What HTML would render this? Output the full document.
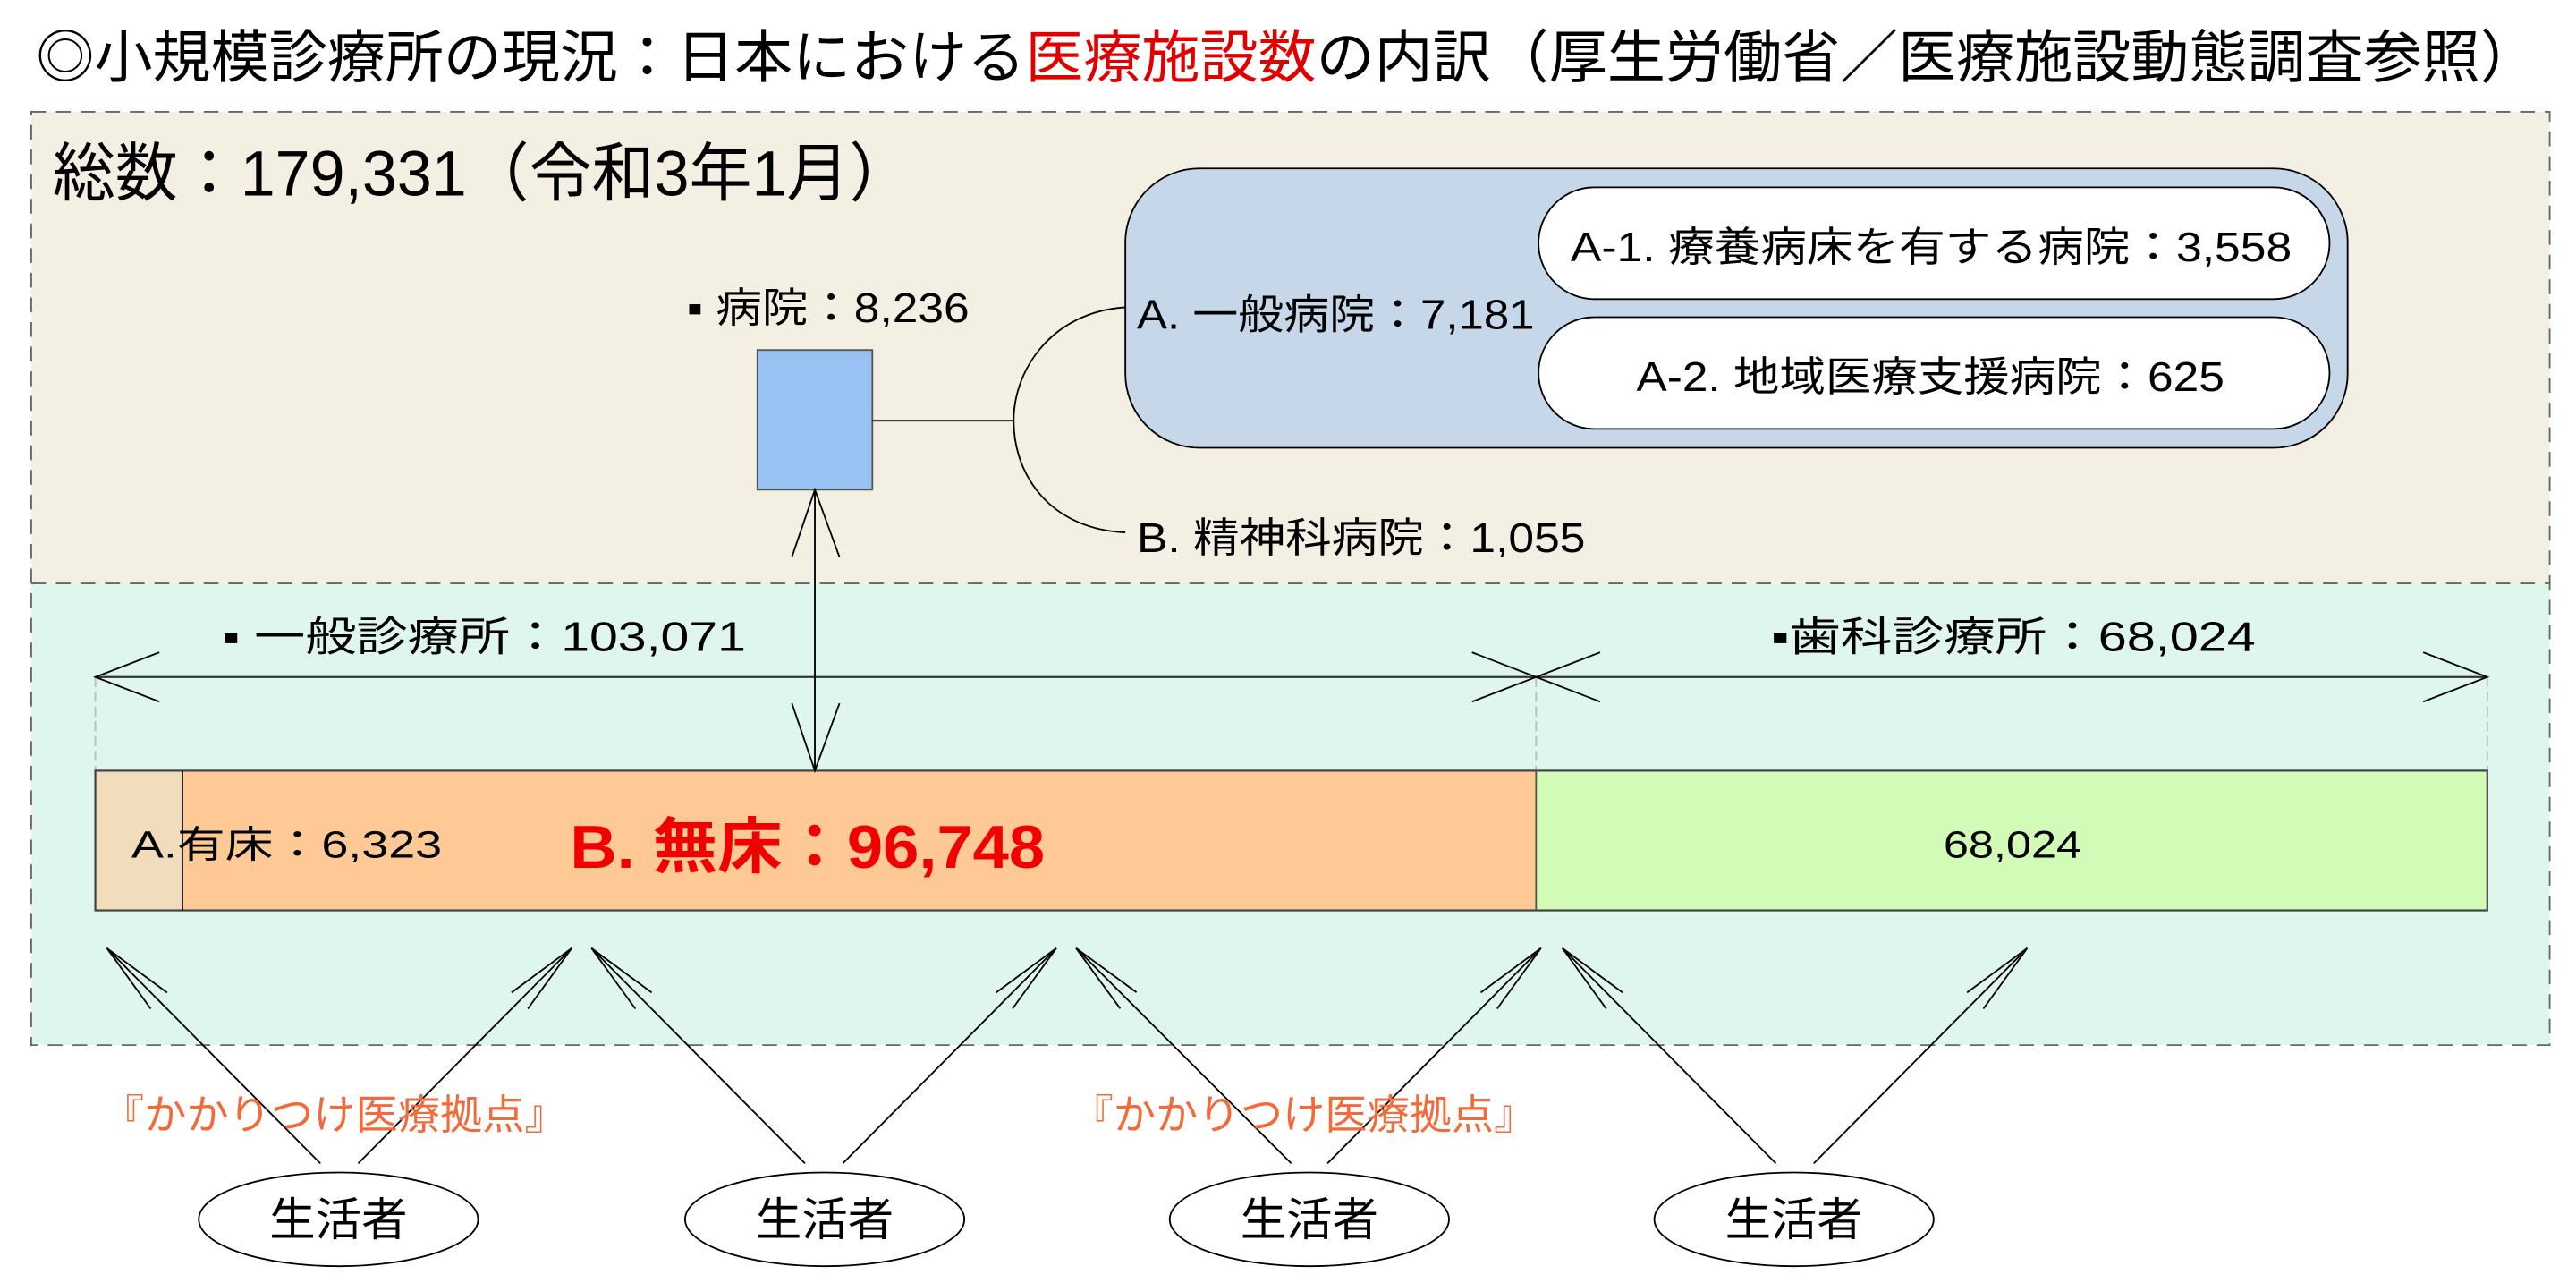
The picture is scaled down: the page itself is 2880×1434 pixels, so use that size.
<!DOCTYPE html>
<html><head><meta charset="utf-8"><style>
html,body{margin:0;padding:0;background:#fff;}
svg{display:block;}
text{font-family:"Liberation Sans","Noto Sans CJK JP",sans-serif;}
</style></head><body>
<svg xmlns="http://www.w3.org/2000/svg" width="2880" height="1434" viewBox="0 0 1568 780.75">
<defs>
<marker id="v" markerUnits="userSpaceOnUse" markerWidth="60" markerHeight="60" refX="0" refY="0" viewBox="-50 -30 60 60" orient="auto">
<path d="M-45,-7 L0,0 L-45,7" fill="none" stroke="#000" stroke-width="1"/>
</marker>
</defs>
<rect width="1568" height="781" fill="#fff"/>
<text x="22" y="47" font-size="35" textLength="1523" lengthAdjust="spacingAndGlyphs" fill="#000">◎小規模診療所の現況：日本における<tspan fill="#e00000">医療施設数</tspan>の内訳（厚生労働省／医療施設動態調査参照）</text>

<rect x="19" y="68" width="1533" height="287" fill="#f3efe2"/>
<rect x="19" y="355" width="1533" height="281" fill="#dff6ee"/>
<rect x="19" y="68" width="1533" height="568" fill="none" stroke="#666" stroke-width="1" stroke-dasharray="9,6"/>
<line x1="19" y1="355" x2="1552" y2="355" stroke="#666" stroke-width="1" stroke-dasharray="9,6"/>

<text x="32" y="119" font-size="39" textLength="523" lengthAdjust="spacingAndGlyphs">総数：179,331（令和3年1月）</text>

<text x="418" y="196" font-size="25" textLength="172" lengthAdjust="spacingAndGlyphs">▪ 病院：8,236</text>
<rect x="461" y="213" width="70" height="85" fill="#97c2f2" stroke="#555" stroke-width="1"/>
<line x1="531" y1="256" x2="617" y2="256" stroke="#000" stroke-width="1"/>
<path d="M685,187 C640,190 617,225 617,256 C617,290 640,322 685,324" fill="none" stroke="#000" stroke-width="1"/>

<rect x="685" y="102.5" width="744" height="170" rx="45" fill="#c5d7e8" stroke="#000" stroke-width="1"/>
<rect x="936.5" y="114" width="481.5" height="68" rx="34" fill="#fff" stroke="#000" stroke-width="1"/>
<rect x="936.5" y="193" width="481.5" height="68" rx="34" fill="#fff" stroke="#000" stroke-width="1"/>
<text x="692" y="200" font-size="25" textLength="242" lengthAdjust="spacingAndGlyphs">A. 一般病院：7,181</text>
<text x="956" y="159" font-size="25" textLength="439" lengthAdjust="spacingAndGlyphs">A-1. 療養病床を有する病院：3,558</text>
<text x="996" y="238" font-size="25" textLength="358" lengthAdjust="spacingAndGlyphs">A-2. 地域医療支援病院：625</text>
<text x="692" y="336" font-size="25" textLength="273" lengthAdjust="spacingAndGlyphs">B. 精神科病院：1,055</text>

<text x="135" y="396" font-size="25" textLength="319" lengthAdjust="spacingAndGlyphs">▪ 一般診療所：103,071</text>
<text x="1078" y="396" font-size="25" textLength="295" lengthAdjust="spacingAndGlyphs">▪歯科診療所：68,024</text>

<line x1="58" y1="412" x2="58" y2="469" stroke="#bbb" stroke-width="1" stroke-dasharray="6,3"/>
<line x1="935" y1="412" x2="935" y2="469" stroke="#bbb" stroke-width="1" stroke-dasharray="6,3"/>
<line x1="1514" y1="412" x2="1514" y2="469" stroke="#bbb" stroke-width="1" stroke-dasharray="6,3"/>
<line x1="58" y1="412" x2="1514" y2="412" stroke="#333" stroke-width="1.2"/>
<path d="M97,397 L58,412 L97,427 M896,397 L935,412 L896,427 M974,397 L935,412 L974,427 M1475,397 L1514,412 L1475,427" fill="none" stroke="#000" stroke-width="1"/>

<rect x="58" y="469" width="53" height="85" fill="#f1dcbb"/>
<rect x="111" y="469" width="824" height="85" fill="#fec994"/>
<rect x="935" y="469" width="579" height="85" fill="#d2fbb8"/>
<rect x="58" y="469" width="1456" height="85" fill="none" stroke="#444" stroke-width="1.2"/>
<line x1="111" y1="469" x2="111" y2="554" stroke="#000" stroke-width="1"/>
<line x1="935" y1="469" x2="935" y2="554" stroke="#555" stroke-width="1"/>
<text x="80" y="522" font-size="23" textLength="189" lengthAdjust="spacingAndGlyphs">A.有床：6,323</text>
<text x="347" y="528" font-size="37" font-weight="bold" fill="#f00000" textLength="289" lengthAdjust="spacingAndGlyphs">B. 無床：96,748</text>
<text x="1183" y="522" font-size="23" textLength="84" lengthAdjust="spacingAndGlyphs">68,024</text>

<line x1="496" y1="298" x2="496" y2="469" stroke="#000" stroke-width="1"/>
<path d="M482,339 L496,298 L511,339 M482,428 L496,469 L511,428" fill="none" stroke="#000" stroke-width="1"/>

<g stroke="#000" stroke-width="1" fill="none" marker-end="url(#v)">
<line x1="195" y1="708" x2="65" y2="577"/>
<line x1="218" y1="708" x2="348" y2="577"/>
<line x1="490" y1="708" x2="360" y2="577"/>
<line x1="513" y1="708" x2="643" y2="577"/>
<line x1="786" y1="708" x2="655" y2="577"/>
<line x1="808" y1="708" x2="938" y2="577"/>
<line x1="1081" y1="708" x2="951" y2="577"/>
<line x1="1104" y1="708" x2="1234" y2="577"/>
</g>

<text x="62" y="687" font-size="25" fill="#f26a3a" textLength="283" lengthAdjust="spacingAndGlyphs">『かかりつけ医療拠点』</text>
<text x="652" y="687" font-size="25" fill="#f26a3a" textLength="283" lengthAdjust="spacingAndGlyphs">『かかりつけ医療拠点』</text>

<g fill="#fff" stroke="#000" stroke-width="1">
<ellipse cx="206" cy="742" rx="85" ry="28.5"/>
<ellipse cx="502" cy="742" rx="85" ry="28.5"/>
<ellipse cx="797" cy="742" rx="85" ry="28.5"/>
<ellipse cx="1092" cy="742" rx="85" ry="28.5"/>
</g>
<g font-size="28" text-anchor="middle">
<text x="206" y="752">生活者</text>
<text x="502" y="752">生活者</text>
<text x="797" y="752">生活者</text>
<text x="1092" y="752">生活者</text>
</g>
</svg>
</body></html>
